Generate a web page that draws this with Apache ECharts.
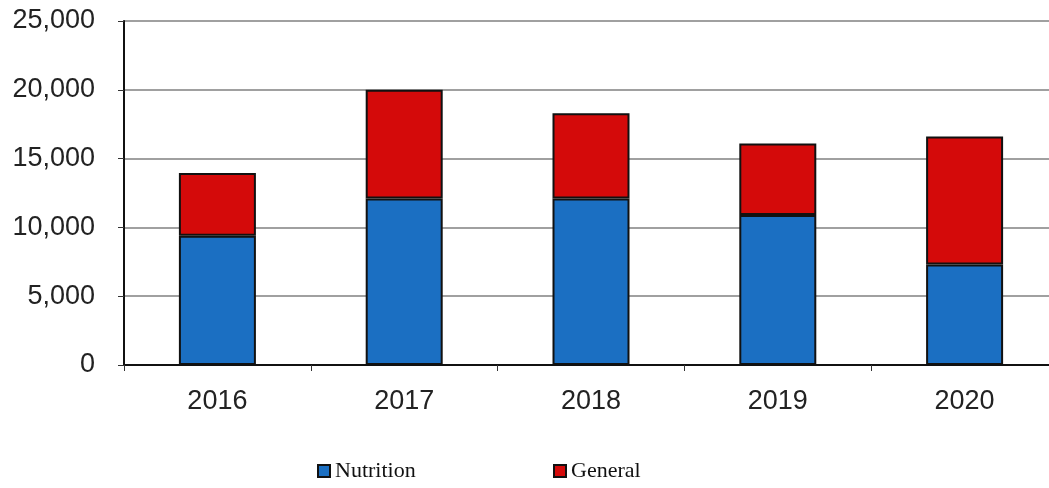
<!DOCTYPE html>
<html><head><meta charset="utf-8">
<script src="https://cdn.jsdelivr.net/npm/echarts@6/dist/echarts.min.js"></script>
<style>html,body{margin:0;padding:0;background:#fff}#c{width:1049px;height:488px}</style>
</head><body><div id="c"></div>
<script>
const categories = ['2016', '2017', '2018', '2019', '2020'];
const nutrition = [9400, 12100, 12100, 10900, 7300];
const general = [4550, 7900, 6200, 5200, 9300];
const yTicks = [0, 5000, 10000, 15000, 20000, 25000];

const chart = echarts.init(document.getElementById('c'));
const barStyle = (c) => ({ color: c, borderColor: '#111', borderWidth: 2 });
const legendText = { fontFamily: 'Liberation Serif', fontSize: 22, color: '#111' };
chart.setOption({
  animation: false,
  backgroundColor: '#fff',
  grid: { left: 124, width: 934, top: 21, bottom: 123, containLabel: false, outerBoundsMode: 'none' },
  legend: [
    { data: ['Nutrition'], left: 317, top: 460, padding: 0, itemWidth: 12, itemHeight: 12, icon: 'rect',
      textStyle: legendText, itemGap: 2 },
    { data: ['General'], left: 553, top: 460, padding: 0, itemWidth: 12, itemHeight: 12, icon: 'rect',
      textStyle: legendText, itemGap: 2 }
  ],
  xAxis: {
    type: 'category', data: categories,
    axisLine: { lineStyle: { color: '#111', width: 2 } },
    axisTick: { show: true, length: 6, lineStyle: { color: '#333' } },
    axisLabel: { fontFamily: 'Liberation Sans', fontSize: 27, color: '#222', margin: 23 }
  },
  yAxis: {
    type: 'value', min: 0, max: 25000, interval: 5000,
    axisLine: { show: true, lineStyle: { color: '#111', width: 2 } },
    axisTick: { show: true, length: 6, lineStyle: { color: '#333' } },
    splitLine: { lineStyle: { color: '#808080', width: 1.5 } },
    axisLabel: { fontFamily: 'Liberation Sans', fontSize: 27, color: '#222', margin: 29,
      formatter: v => v.toLocaleString('en-US') }
  },
  series: [
    { name: 'Nutrition', type: 'bar', stack: 't', data: nutrition, barWidth: 77,
      itemStyle: barStyle('#1b6fc2') },
    { name: 'General', type: 'bar', stack: 't', data: general, barWidth: 77,
      itemStyle: barStyle('#d40a0a') }
  ]
});
</script></body></html>
